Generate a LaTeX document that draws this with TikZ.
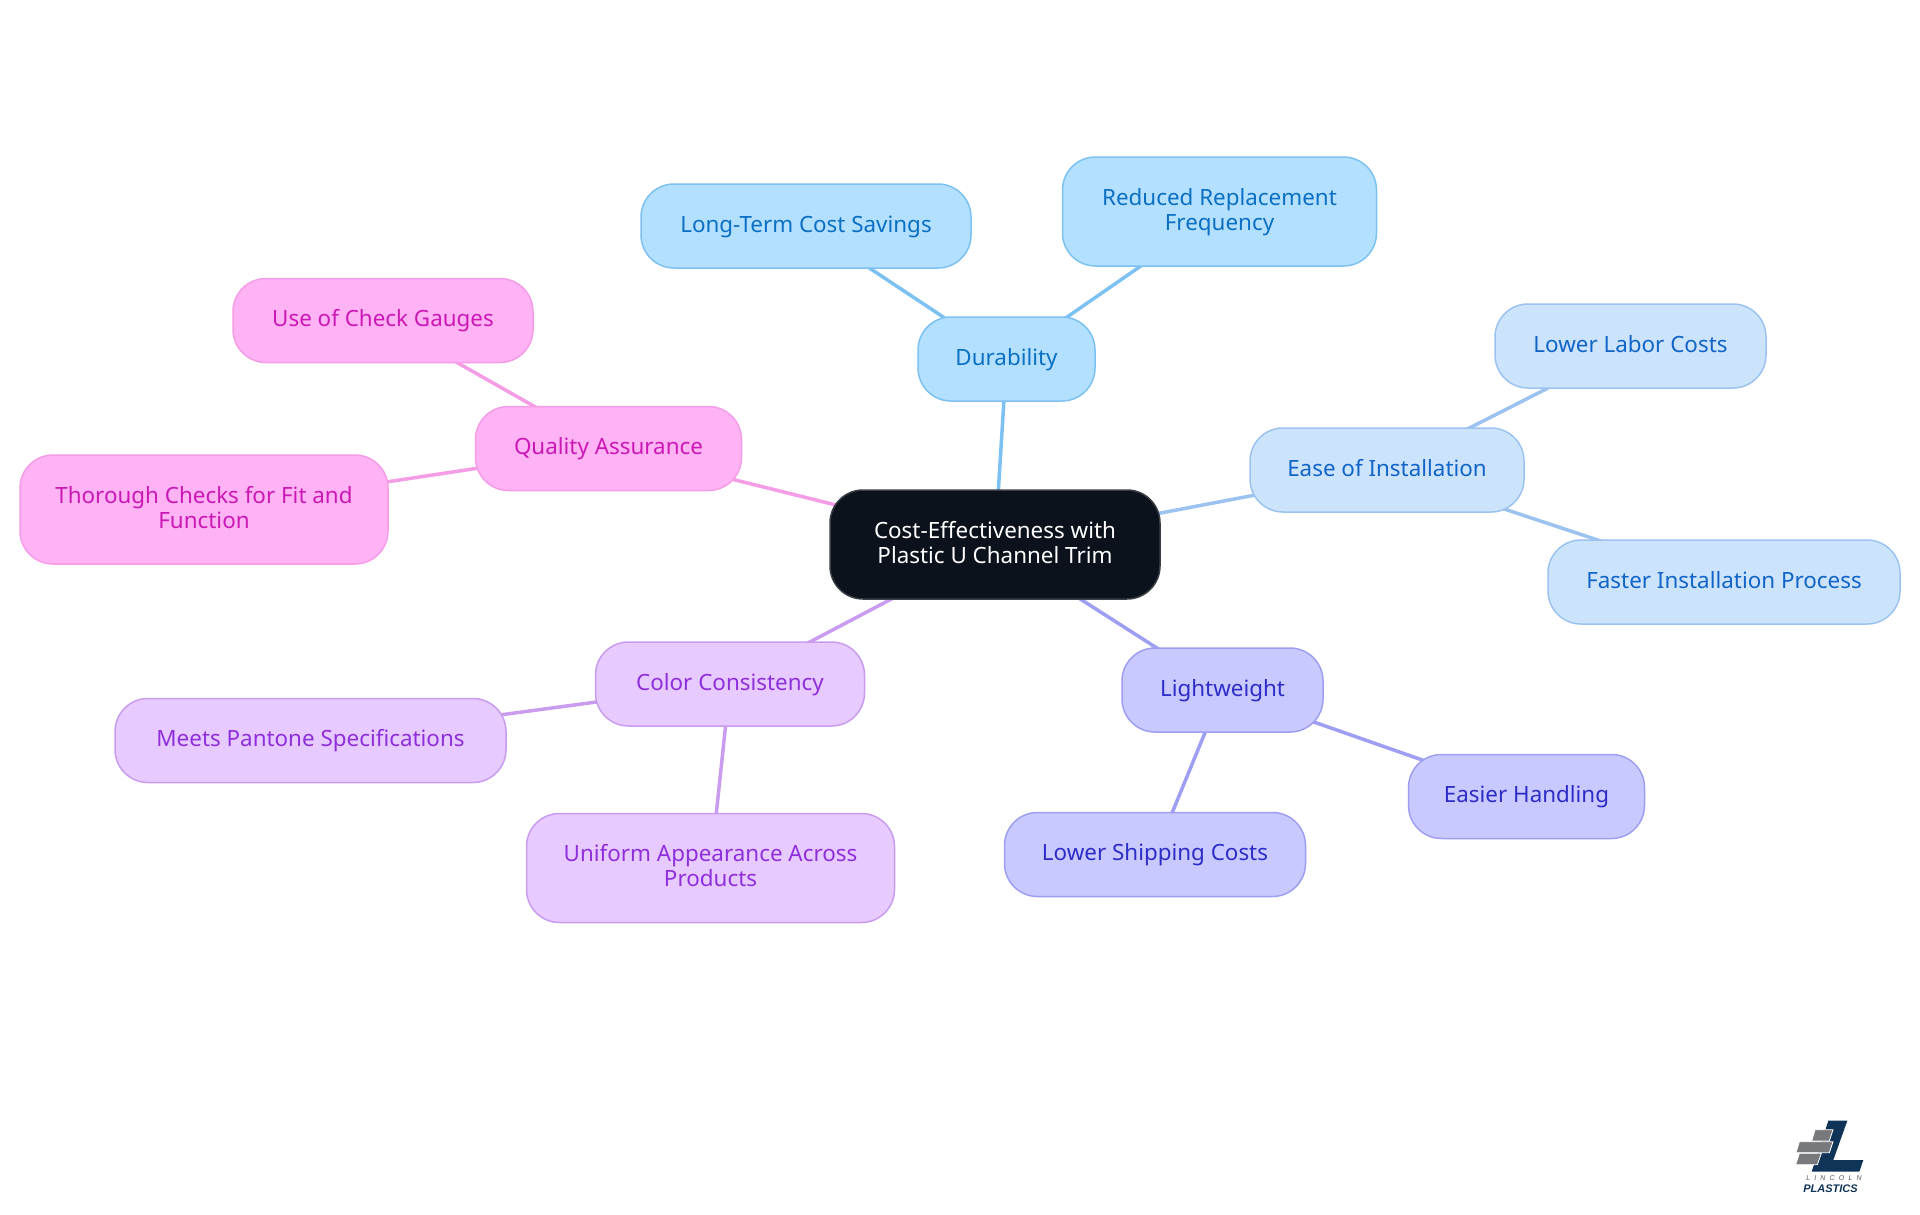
\documentclass[tikz,border=0pt]{standalone}
\usepackage{fontspec}
\setmainfont{Noto Sans}
\newfontfamily\logofont{Liberation Sans}
\usetikzlibrary{backgrounds}
\newcommand{\lbl}[1]{\raisebox{-1.2pt}[\height][\depth]{\begin{tabular}{@{}c@{}}#1\end{tabular}}}
\definecolor{bluefill}{HTML}{B3E0FF}\definecolor{blueline}{HTML}{7CC1F2}\definecolor{bluetext}{HTML}{0B6FC4}
\definecolor{skyfill}{HTML}{CCE3FC}\definecolor{skyline}{HTML}{9CC3F0}\definecolor{skytext}{HTML}{1264C8}
\definecolor{indfill}{HTML}{C8CAFF}\definecolor{indline}{HTML}{9E9EF2}\definecolor{indtext}{HTML}{2E2CC8}
\definecolor{purfill}{HTML}{E7CAFF}\definecolor{purline}{HTML}{C99CF0}\definecolor{purtext}{HTML}{8F2FDC}
\definecolor{pinkfill}{HTML}{FFB3F5}\definecolor{pinkline}{HTML}{F59CE6}\definecolor{pinktext}{HTML}{CB18B5}
\definecolor{rootfill}{HTML}{0B121B}\definecolor{rootline}{HTML}{3A3F45}
\definecolor{logonavy}{HTML}{0F3458}\definecolor{logogray}{HTML}{77797C}\definecolor{logotext}{HTML}{55585C}
\tikzset{
  box/.style={draw,rectangle,rounded corners=33pt,line width=1.5pt,inner sep=0pt,
    font=\fontsize{22.4}{25}\selectfont},
  rootbox/.style={box,fill=rootfill,draw=rootline,text=white},
  bluebox/.style={box,fill=bluefill,draw=blueline,text=bluetext},
  skybox/.style={box,fill=skyfill,draw=skyline,text=skytext},
  indbox/.style={box,fill=indfill,draw=indline,text=indtext},
  purbox/.style={box,fill=purfill,draw=purline,text=purtext},
  pinkbox/.style={box,fill=pinkfill,draw=pinkline,text=pinktext},
  link/.style={line width=3.5pt},
  brick/.style={fill=logogray,draw=white,line width=0.8pt}
}
\begin{document}
\begin{tikzpicture}[x=1pt,y=-1pt]
\useasboundingbox (0,0) rectangle (1920,1215);
\node[rootbox,minimum width=330pt,minimum height=109pt] (root) at (995,544.5) {\lbl{Cost-Effectiveness with\\Plastic U Channel Trim}};
\node[bluebox,minimum width=177pt,minimum height=84pt] (dur) at (1006.5,359) {\lbl{Durability}};
\node[bluebox,minimum width=330pt,minimum height=84pt] (long) at (806,226) {\lbl{Long-Term Cost Savings}};
\node[bluebox,minimum width=314pt,minimum height=109pt] (redu) at (1219.5,211.5) {\lbl{Reduced Replacement\\Frequency}};
\node[skybox,minimum width=274pt,minimum height=84pt] (ease) at (1387,470) {\lbl{Ease of Installation}};
\node[skybox,minimum width=271pt,minimum height=84pt] (labor) at (1630.5,346) {\lbl{Lower Labor Costs}};
\node[skybox,minimum width=352pt,minimum height=84pt] (fast) at (1724,582) {\lbl{Faster Installation Process}};
\node[indbox,minimum width=201pt,minimum height=84pt] (light) at (1222.5,690) {\lbl{Lightweight}};
\node[indbox,minimum width=236pt,minimum height=84pt] (hand) at (1526.5,796.5) {\lbl{Easier Handling}};
\node[indbox,minimum width=301pt,minimum height=84pt] (ship) at (1155,854.5) {\lbl{Lower Shipping Costs}};
\node[purbox,minimum width=269pt,minimum height=84pt] (color) at (730,684) {\lbl{Color Consistency}};
\node[purbox,minimum width=391pt,minimum height=84pt] (meet) at (310.5,740.5) {\lbl{Meets Pantone Specifications}};
\node[purbox,minimum width=368pt,minimum height=109pt] (unif) at (710.5,868) {\lbl{Uniform Appearance Across\\Products}};
\node[pinkbox,minimum width=266pt,minimum height=84pt] (qual) at (608.5,448.5) {\lbl{Quality Assurance}};
\node[pinkbox,minimum width=300pt,minimum height=84pt] (gaug) at (383,320.5) {\lbl{Use of Check Gauges}};
\node[pinkbox,minimum width=368pt,minimum height=109pt] (thor) at (204,509.5) {\lbl{Thorough Checks for Fit and\\Function}};
\begin{scope}[on background layer]
\fill[white] (0,0) rectangle (1920,1215);
\draw[link,blueline] (root.center) -- (dur.center) (dur.center) -- (long.center) (dur.center) -- (redu.center);
\draw[link,skyline] (root.center) -- (ease.center) (ease.center) -- (labor.center) (ease.center) -- (fast.center);
\draw[link,indline] (root.center) -- (light.center) (light.center) -- (hand.center) (light.center) -- (ship.center);
\draw[link,purline] (root.center) -- (color.center) (color.center) -- (meet.center) (color.center) -- (unif.center);
\draw[link,pinkline] (root.center) -- (qual.center) (qual.center) -- (gaug.center) (qual.center) -- (thor.center);
\end{scope}
\begin{scope}[shift={(1760,1090)},scale=1/3]
\fill[logonavy] (205,92) -- (262,92) -- (220,210) -- (310,210) -- (298,245) -- (155,245) -- cycle;
\draw[brick] (165,119) -- (219,119) -- (208,153) -- (155,153) -- cycle;
\draw[brick] (118,155) -- (219,155) -- (208,188) -- (108,188) -- cycle;
\draw[brick] (118,190) -- (184,190) -- (172,224) -- (107,224) -- cycle;
\end{scope}
\node[text=logotext,inner sep=0pt,font=\logofont\itshape\fontsize{7}{7}\selectfont] (lincoln) at (1834,1178.5) {\addfontfeature{LetterSpace=60}LINCOLN};
\node[text=logonavy,inner sep=0pt,font=\logofont\bfseries\itshape\fontsize{11}{12}\selectfont] (plastics) at (1830.5,1188.5) {PLASTICS};
\end{tikzpicture}
\end{document}
